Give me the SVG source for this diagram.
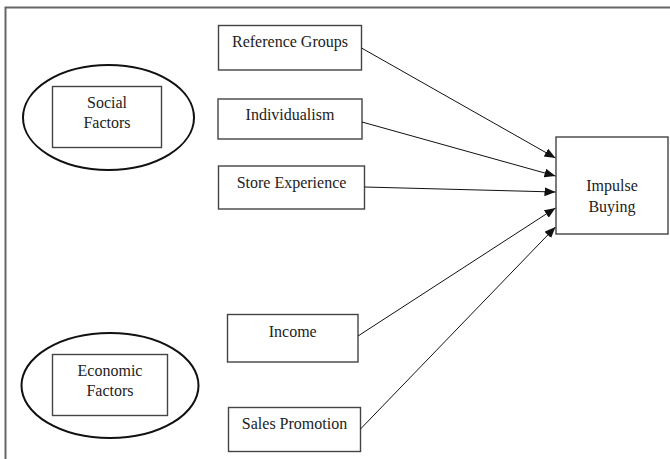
<svg xmlns="http://www.w3.org/2000/svg" width="670" height="459" viewBox="0 0 670 459">
<defs>
<style>
.box{fill:#fff;stroke:#444;stroke-width:1.4}
.ell{fill:#fff;stroke:#111;stroke-width:2}
.t{font-family:"Liberation Serif","Times New Roman",serif;font-size:16px;fill:#222;text-anchor:middle}
.c{stroke:#111;stroke-width:1;fill:none;marker-end:url(#ah)}
.frame{stroke:#666;stroke-width:2;fill:none}
</style>
<marker id="ah" markerUnits="userSpaceOnUse" markerWidth="12" markerHeight="10" refX="11" refY="4.5" orient="auto">
<path d="M0,0 L11,4.5 L0,9 z" fill="#111"/>
</marker>
</defs>
<rect width="670" height="459" fill="#fff"/>
<path class="frame" d="M5.5,459 L5.5,7.5 L670,7.5"/>
<g id="social">
<ellipse class="ell" cx="108.5" cy="117.5" rx="85.5" ry="52.5"/>
<rect class="box" x="52.5" y="86.5" width="109" height="61"/>
<text class="t" x="107" y="108">Social</text>
<text class="t" x="107" y="127.5">Factors</text>
</g>
<g id="economic">
<ellipse class="ell" cx="110" cy="385.5" rx="88.5" ry="52.5"/>
<rect class="box" x="52.5" y="354.5" width="115" height="61"/>
<text class="t" x="110" y="376">Economic</text>
<text class="t" x="110" y="395.5">Factors</text>
</g>
<g id="reference">
<rect class="box" x="218.5" y="25.5" width="143" height="44.5"/>
<text class="t" x="290" y="46.5">Reference Groups</text>
</g>
<g id="individualism">
<rect class="box" x="218" y="99" width="144" height="40"/>
<text class="t" x="290" y="120">Individualism</text>
</g>
<g id="store">
<rect class="box" x="218.5" y="166" width="146" height="43"/>
<text class="t" x="291.5" y="187.5">Store Experience</text>
</g>
<g id="income">
<rect class="box" x="227.5" y="314.5" width="130.5" height="47.5"/>
<text class="t" x="292.7" y="336.5">Income</text>
</g>
<g id="sales">
<rect class="box" x="228.5" y="407.5" width="132" height="44"/>
<text class="t" x="294.5" y="429">Sales Promotion</text>
</g>
<g id="impulse">
<rect class="box" x="556" y="137" width="112" height="97"/>
<text class="t" x="612" y="191">Impulse</text>
<text class="t" x="612" y="211.5">Buying</text>
</g>
<g id="connectors">
<line class="c" x1="361.5" y1="48" x2="555.5" y2="158"/>
<line class="c" x1="362" y1="122" x2="555.5" y2="176"/>
<line class="c" x1="364.5" y1="187" x2="555.5" y2="192"/>
<line class="c" x1="358" y1="336" x2="555.5" y2="208"/>
<line class="c" x1="360.5" y1="429" x2="555.5" y2="227"/>
</g>
</svg>
